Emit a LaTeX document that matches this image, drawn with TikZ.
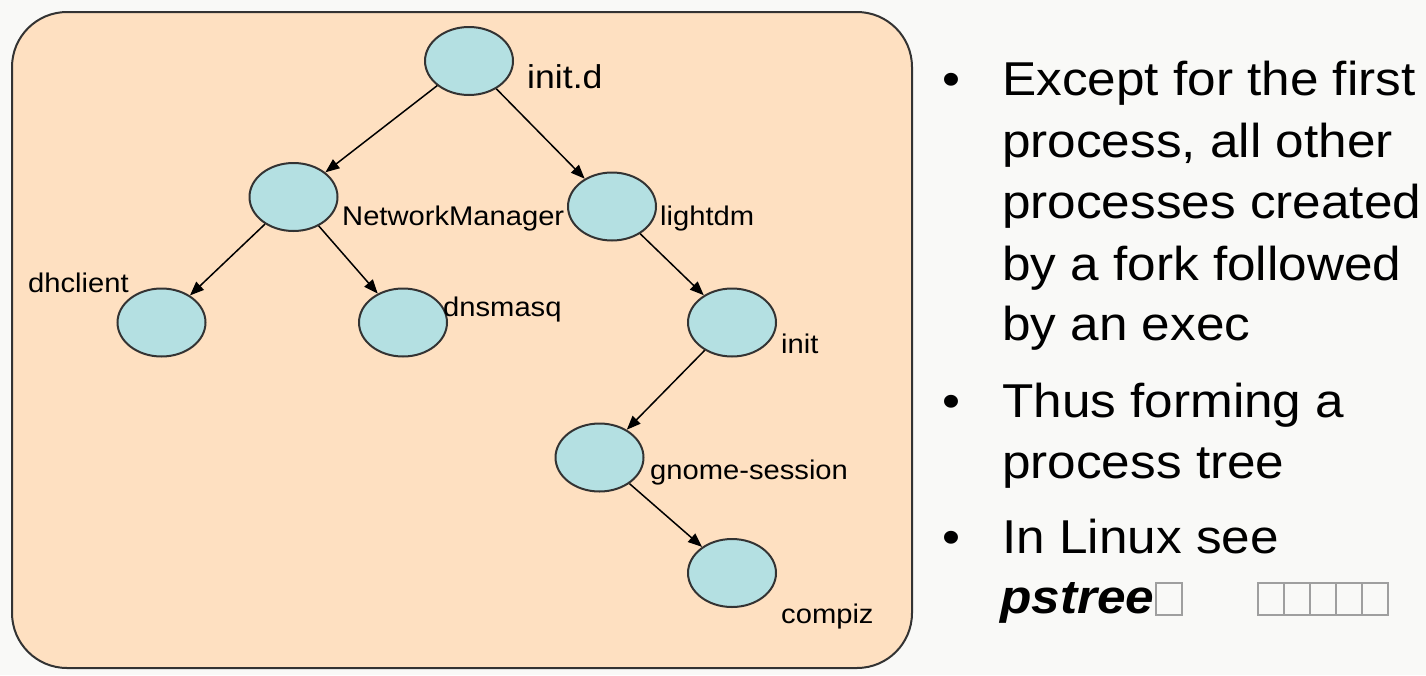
\documentclass[tikz,border=0pt]{standalone}
\usepackage{fontspec}
\setmainfont{Liberation Sans}[FakeStretch=1.08]
\usetikzlibrary{shapes.geometric,arrows.meta}
\definecolor{peach}{RGB}{254,224,193}
\definecolor{cyanfill}{RGB}{180,224,226}
\definecolor{edgegray}{RGB}{51,51,51}
\definecolor{bgwhite}{RGB}{249,249,247}
\begin{document}
\begin{tikzpicture}[x=1pt,y=-1pt,
  proc/.style={ellipse,draw=edgegray,fill=cyanfill,line width=2pt,minimum width=88pt,minimum height=68pt,inner sep=0pt},
  lbl/.style={anchor=base west,inner sep=0pt,font=\fontsize{27}{32}\selectfont},
  biglbl/.style={anchor=base west,inner sep=0pt,font=\fontsize{33}{38}\selectfont},
  txt/.style={anchor=base west,inner sep=0pt,font=\fontsize{47.5}{60}\selectfont},
  tofu/.style={draw=gray!75,line width=1.5pt,minimum width=26pt,minimum height=32pt,inner sep=0pt,anchor=north west},
  link/.style={-{Triangle[length=14pt,width=11pt]},line width=1.5pt,black}]
\fill[bgwhite] (0,0) rectangle (1426,675);
\useasboundingbox (0,0) rectangle (1426,675);
\draw[fill=peach,draw=edgegray,line width=2pt,rounded corners=55pt] (12,12) rectangle (912,668);

% process nodes
\node[proc] (initd) at (469,61) {};
\node[proc] (nm) at (293.5,197) {};
\node[proc] (lightdm) at (612,206.5) {};
\node[proc] (dhclient) at (161.5,322.5) {};
\node[proc] (dnsmasq) at (403,322.5) {};
\node[proc] (init) at (732,322.5) {};
\node[proc] (gnome) at (599.5,457.5) {};
\node[proc] (compiz) at (732,573) {};

% connectors
\draw[link] (initd) -- (nm);
\draw[link] (initd) -- (lightdm);
\draw[link] (nm) -- (dhclient);
\draw[link] (nm) -- (dnsmasq);
\draw[link] (lightdm) -- (init);
\draw[link] (init) -- (gnome);
\draw[link] (gnome) -- (compiz);

% labels
\node[biglbl] (tinitd) at (527,88) {init.d};
\node[lbl] (tnm) at (342,225) {NetworkManager};
\node[lbl] (tlightdm) at (660,225) {lightdm};
\node[lbl] (tdhclient) at (28,292) {dhclient};
\node[lbl] (tdnsmasq) at (443,316) {dnsmasq};
\node[lbl] (tinit) at (781,353) {init};
\node[lbl] (tgnome) at (650,479) {gnome-session};
\node[lbl] (tcompiz) at (781,623) {compiz};

% bullets
\node[txt] (b1) at (942,95) {•};
\node[txt] (b2) at (942,417) {•};
\node[txt] (b3) at (942,553) {•};

% right text
\node[txt] (l1) at (1002,95) {Except for the first};
\node[txt] (l2) at (1002,157) {process, all other};
\node[txt] (l3) at (1002,218) {processes created};
\node[txt] (l4) at (1002,280) {by a fork followed};
\node[txt] (l5) at (1002,340) {by an exec};
\node[txt] (l6) at (1002,417) {Thus forming a};
\node[txt] (l7) at (1002,478) {process tree};
\node[txt] (l8) at (1002,553) {In Linux see};
\node[txt] (l9) at (1000,613) {\textbf{\textit{pstree}}};

% missing-glyph boxes
\node[tofu] (q0) at (1155,582) {};
\node[tofu] (q1) at (1257,582) {};
\node[tofu] (q2) at (1283,582) {};
\node[tofu] (q3) at (1309,582) {};
\node[tofu] (q4) at (1335,582) {};
\node[tofu] (q5) at (1361,582) {};
\end{tikzpicture}
\end{document}
